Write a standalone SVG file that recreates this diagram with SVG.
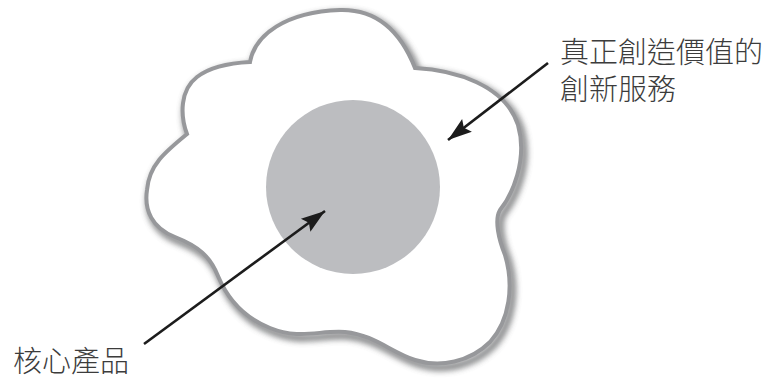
<svg xmlns="http://www.w3.org/2000/svg" width="774" height="379" viewBox="0 0 774 379">
<style>
.lbl{font-family:"Noto Sans CJK TC","Noto Sans CJK SC",sans-serif;font-size:29px;font-weight:300;fill:#3c3c3c}
.conn{stroke:#1c1c1c;stroke-width:2.6;fill:none;marker-end:url(#ah)}
</style>
<defs>
<path id="blob" d="M250,62 C255,35 285,12 340,10 C375,9 400,30 415,68 C455,70 505,85 518,125 C528,160 512,195 500,210 C494,220 499,240 505,255 C514,285 510,320 490,342 C470,362 440,368 415,360 C390,352 375,335 345,332 C320,330 300,340 270,328 C245,318 228,300 218,276 C210,256 198,246 175,237 C152,228 144,210 147,190 C149,165 165,152 187,134 C180,115 180,90 197,77 C210,67 230,63 250,62 Z"/>
<filter id="sh" x="-10%" y="-10%" width="120%" height="120%">
<feGaussianBlur stdDeviation="3"/>
</filter>
<marker id="ah" markerUnits="userSpaceOnUse" markerWidth="30" markerHeight="20" viewBox="0 -10 26 20" refX="24" refY="0" orient="auto">
<path d="M0,-8 L24,0 L0,8 L4,0 Z" fill="#1c1c1c"/>
</marker>
</defs>
<g id="egg-white">
<use href="#blob" transform="translate(3,4)" fill="none" stroke="#555659" stroke-width="6" opacity="0.85" filter="url(#sh)"/>
<use href="#blob" fill="#ffffff" stroke="#97989b" stroke-width="4"/>
</g>
<g id="core">
<circle cx="353" cy="187" r="87" fill="#bcbdc0"/>
</g>
<g id="connectors">
<line class="conn" x1="548" y1="63" x2="448" y2="140"/>
<line class="conn" x1="144" y1="344" x2="325" y2="211"/>
</g>
<g id="label-service">
<text class="lbl" x="560" y="63">真正創造價值的</text>
<text class="lbl" x="560" y="100">創新服務</text>
</g>
<g id="label-core">
<text class="lbl" x="13" y="372">核心產品</text>
</g>
</svg>
